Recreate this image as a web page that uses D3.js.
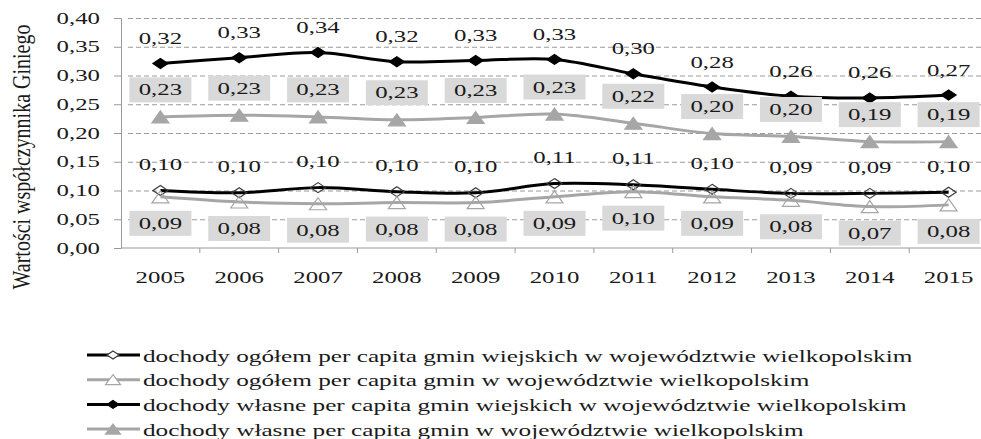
<!DOCTYPE html>
<html>
<head>
<meta charset="utf-8">
<script src="https://cdn.jsdelivr.net/npm/d3@7"></script>
<style>
  body { margin: 0; background: #fff; }
  text { font-family: "Liberation Serif", "Times New Roman", serif; fill: #1a1a1a; }
</style>
</head>
<body>
<div id="chart"></div>
<script>
// data
var years = ["2005", "2006", "2007", "2008", "2009", "2010", "2011", "2012", "2013", "2014", "2015"];

var ogolemWiejskie = [0.100, 0.096, 0.105, 0.098, 0.096, 0.112, 0.110, 0.102, 0.095, 0.095, 0.097];
var ogolemWiejskieLabels = ["0,10", "0,10", "0,10", "0,10", "0,10", "0,11", "0,11", "0,10", "0,09", "0,09", "0,10"];

var ogolemWoj = [0.089, 0.080, 0.077, 0.079, 0.079, 0.089, 0.098, 0.089, 0.083, 0.072, 0.075];
var ogolemWojLabels = ["0,09", "0,08", "0,08", "0,08", "0,08", "0,09", "0,10", "0,09", "0,08", "0,07", "0,08"];

var wlasneWiejskie = [0.321, 0.331, 0.340, 0.324, 0.326, 0.328, 0.303, 0.280, 0.264, 0.261, 0.266];
var wlasneWiejskieLabels = ["0,32", "0,33", "0,34", "0,32", "0,33", "0,33", "0,30", "0,28", "0,26", "0,26", "0,27"];

var wlasneWoj = [0.228, 0.231, 0.228, 0.223, 0.227, 0.233, 0.217, 0.199, 0.194, 0.185, 0.185];
var wlasneWojLabels = ["0,23", "0,23", "0,23", "0,23", "0,23", "0,23", "0,22", "0,20", "0,20", "0,19", "0,19"];

var yTicks = [0, 0.05, 0.10, 0.15, 0.20, 0.25, 0.30, 0.35, 0.40];

var legendNames = [
  "dochody ogółem per capita gmin wiejskich w województwie wielkopolskim",
  "dochody ogółem per capita gmin w województwie wielkopolskim",
  "dochody własne per capita gmin wiejskich w województwie wielkopolskim",
  "dochody własne per capita gmin w województwie wielkopolskim"
];

var svgWidth = 981;
var svgHeight = 439;
var stretch = 1.55;   // the whole picture is stretched sideways
var grey = "#a6a6a6";

var svg = d3.select("#chart")
  .append("svg")
  .attr("width", svgWidth)
  .attr("height", svgHeight);

var x = d3.scaleBand().domain(years).range([121, 988]);
var y = d3.scaleLinear().domain([0, 0.4]).range([248, 18]);
var cx = d => x(d) + x.bandwidth() / 2;

function commaFmt(v) { return d3.format(".2f")(v).replace(".", ","); }

// gridlines
svg.append("g")
  .attr("transform", "translate(121,0)")
  .call(d3.axisLeft(y).tickValues(yTicks.slice(1)).tickSize(-(988 - 114)).tickFormat(""))
  .call(g => g.select(".domain").remove())
  .call(g => g.selectAll(".tick line")
    .attr("x1", 7)
    .attr("stroke", "#9a9a9a")
    .attr("stroke-dasharray", "5,3"));

// y axis
var yAxis = svg.append("g")
  .attr("transform", "translate(121,0)")
  .call(d3.axisLeft(y).tickValues(yTicks).tickSize(7).tickSizeOuter(0).tickFormat(""));
yAxis.select(".domain").attr("stroke", "#9a9a9a");
yAxis.selectAll(".tick line").attr("stroke", "#9a9a9a");

svg.selectAll(".ylab")
  .data(yTicks)
  .enter()
  .append("text")
  .attr("transform", d => `translate(100, ${y(d) + 5.5}) scale(${stretch},1)`)
  .attr("text-anchor", "end")
  .style("font-size", "16px")
  .text(commaFmt);

// x axis
svg.append("line")
  .attr("x1", 121).attr("x2", 988)
  .attr("y1", y(0)).attr("y2", y(0))
  .attr("stroke", "#9a9a9a");

svg.selectAll(".xtick")
  .data(years.slice(1))
  .enter()
  .append("line")
  .attr("x1", d => x(d)).attr("x2", d => x(d))
  .attr("y1", y(0)).attr("y2", y(0) + 5)
  .attr("stroke", "#9a9a9a");

svg.selectAll(".xlab")
  .data(years)
  .enter()
  .append("text")
  .attr("transform", d => `translate(${cx(d)}, 283) scale(${stretch},1)`)
  .attr("text-anchor", "middle")
  .style("font-size", "16px")
  .text(d => d);

// y title
svg.append("text")
  .attr("transform", `translate(30, 157) scale(1.3,1) rotate(-90)`)
  .attr("text-anchor", "middle")
  .style("font-size", "20px")
  .text("Wartości współczynnika Giniego");

// marker shapes
var diamond = "M0,-5L7.5,0L0,5L-7.5,0Z";
var triangle = "M0,-6L8.5,6L-8.5,6Z";
var smallDiamond = "M0,-4L6,0L0,4L-6,0Z";
var smallTriangle = "M0,-5L7.5,5L-7.5,5Z";

var series = [
  { values: ogolemWiejskie, color: "#000", marker: diamond, mfill: "none", mstroke: "#3a3a3a", legendMarker: smallDiamond },
  { values: ogolemWoj, color: grey, marker: triangle, mfill: "none", mstroke: grey, legendMarker: smallTriangle },
  { values: wlasneWiejskie, color: "#000", marker: diamond, mfill: "#000", mstroke: "#000", legendMarker: smallDiamond },
  { values: wlasneWoj, color: grey, marker: triangle, mfill: grey, mstroke: grey, legendMarker: smallTriangle }
];

var line = d3.line()
  .x((d, i) => cx(years[i]))
  .y(d => y(d))
  .curve(d3.curveCatmullRom.alpha(0.5));

series.forEach(function(s) {
  svg.append("path")
    .datum(s.values)
    .attr("d", line)
    .attr("fill", "none")
    .attr("stroke", s.color)
    .attr("stroke-width", 3);

  svg.append("g")
    .selectAll("path")
    .data(s.values)
    .enter()
    .append("path")
    .attr("d", s.marker)
    .attr("transform", (d, i) => `translate(${cx(years[i])}, ${y(d)})`)
    .attr("fill", s.mfill)
    .attr("stroke", s.mstroke)
    .attr("stroke-width", 1.2);
});

// plain labels above the black lines
function plainLabels(values, labels, dy) {
  svg.append("g")
    .selectAll("text")
    .data(values)
    .enter()
    .append("text")
    .attr("transform", (d, i) => `translate(${cx(years[i])}, ${y(d) + dy + 5.5}) scale(${stretch},1)`)
    .attr("text-anchor", "middle")
    .style("font-size", "16px")
    .text((d, i) => labels[i]);
}

// boxed labels for the grey lines
function boxLabels(values, labels, dy) {
  var g = svg.append("g")
    .selectAll("g")
    .data(values)
    .enter()
    .append("g")
    .attr("transform", (d, i) => `translate(${cx(years[i])}, ${y(d) + dy})`);
  g.append("rect")
    .attr("x", -31).attr("y", -12.5)
    .attr("width", 62).attr("height", 25)
    .attr("fill", "#d9d9d9");
  g.append("text")
    .attr("transform", `translate(0,5.5) scale(${stretch},1)`)
    .attr("text-anchor", "middle")
    .style("font-size", "16px")
    .text((d, i) => labels[i]);
}

plainLabels(wlasneWiejskie, wlasneWiejskieLabels, -25);
boxLabels(wlasneWoj, wlasneWojLabels, -27);
plainLabels(ogolemWiejskie, ogolemWiejskieLabels, -26);
boxLabels(ogolemWoj, ogolemWojLabels, 26.5);

// legend
var legend = svg.append("g")
  .selectAll("g")
  .data(series)
  .enter()
  .append("g")
  .attr("transform", (d, i) => `translate(0, ${355 + i * 24.7})`);

legend.append("line")
  .attr("x1", 87).attr("x2", 140)
  .attr("stroke", d => d.color)
  .attr("stroke-width", 3);

legend.append("path")
  .attr("d", d => d.legendMarker)
  .attr("transform", "translate(113,0)")
  .attr("fill", d => d.mfill === "none" ? "#fff" : d.mfill)
  .attr("stroke", d => d.mstroke)
  .attr("stroke-width", 1.2);

legend.append("text")
  .attr("transform", `translate(143, 6.5) scale(1.53,1)`)
  .style("font-size", "16.5px")
  .text((d, i) => legendNames[i]);
</script>
</body>
</html>
